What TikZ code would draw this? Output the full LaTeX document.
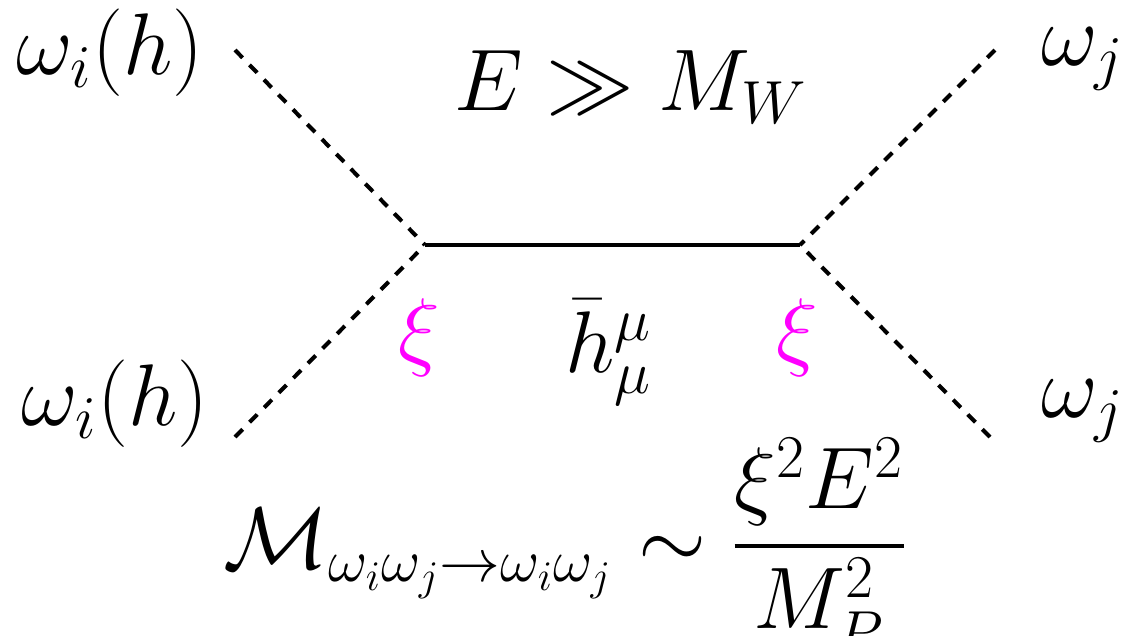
\documentclass[tikz,border=0pt]{standalone}
\usepackage{amsmath,amssymb}
\usepackage{tikz}
\usetikzlibrary{positioning,calc}
\definecolor{GhostPink}{RGB}{255,0,255}
\tikzset{
  scalar/.style={draw=black,line width=1.15pt,dash pattern=on 3.1pt off 2.8pt},
  prop/.style={draw=black,line width=1.4pt},
  lbl/.style={inner sep=0pt,anchor=base,font=\fontsize{24.2}{29}\selectfont},
  cpl/.style={lbl,text=GhostPink},
}

\begin{document}
\begin{tikzpicture}[x=0.01cm,y=-0.01cm]
\useasboundingbox (0,0) rectangle (1129,636);
\coordinate (v1) at (425,245);
\coordinate (v2) at (800,245);
\coordinate (a1) at (235,50);
\coordinate (a2) at (235,437);
\coordinate (b1) at (995,50);
\coordinate (b2) at (990,437);
\draw[scalar] (a1)--(v1);
\draw[scalar] (a2)--(v1);
\draw[scalar] (b1)--(v2);
\draw[scalar] (b2)--(v2);
\draw[prop] (v1)--(v2);
\node[lbl] (wi1) at (110,74) {$\omega_i(h)$};
\node[lbl] (wi2) at (115,425) {$\omega_i(h)$};
\node[lbl] (wj1) at (1083,65) {$\omega_j$};
\node[lbl] (wj2) at (1083,417) {$\omega_j$};
\node[lbl,font=\fontsize{23.2}{28}\selectfont] (en) at (631,110) {$E \gg M_W$};
\node[cpl] (xi1) at (419,359) {$\xi$};
\node[cpl] (xi2) at (797,359) {$\xi$};
\node[lbl] (hb) at (609,372) {$\bar{h}^{\mu}_{\mu}$};
\node[lbl,font=\fontsize{25.5}{30}\selectfont] (amp) at (566,568) {$\mathcal{M}_{\omega_i\omega_j\to\omega_i\omega_j}\sim\dfrac{\xi^2E^2}{M_P^2}$};
\end{tikzpicture}
\end{document}
